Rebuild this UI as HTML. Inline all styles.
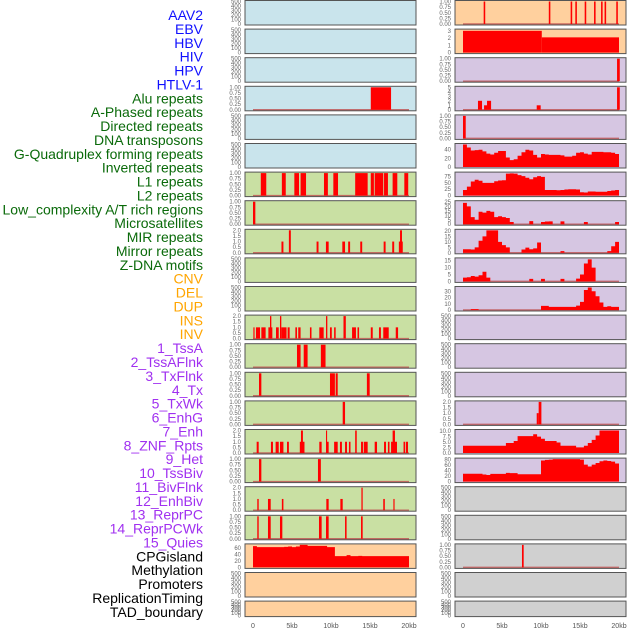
<!DOCTYPE html>
<html><head><meta charset="utf-8">
<style>
html,body{margin:0;padding:0;background:#fff;}
#wrap{position:relative;width:630px;height:630px;overflow:hidden;}
svg text{font-family:"Liberation Sans",sans-serif;}
</style></head>
<body>
<div id="wrap">
<svg id="chart" width="630" height="630" viewBox="0 0 630 630" xmlns="http://www.w3.org/2000/svg"></svg>
</div>
<script>
// ---- labels ----
const labelNames = ["AAV2","EBV","HBV","HIV","HPV","HTLV-1","Alu repeats","A-Phased repeats","Directed repeats","DNA transposons","G-Quadruplex forming repeats","Inverted repeats","L1 repeats","L2 repeats","Low_complexity A/T rich regions","Microsatellites","MIR repeats","Mirror repeats","Z-DNA motifs","CNV","DEL","DUP","INS","INV","1_TssA","2_TssAFlnk","3_TxFlnk","4_Tx","5_TxWk","6_EnhG","7_Enh","8_ZNF_Rpts","9_Het","10_TssBiv","11_BivFlnk","12_EnhBiv","13_ReprPC","14_ReprPCWk","15_Quies","CPGisland","Methylation","Promoters","ReplicationTiming","TAD_boundary"];
const labelGroups = ["virus","virus","virus","virus","virus","virus","rep","rep","rep","rep","rep","rep","rep","rep","rep","rep","rep","rep","rep","sv","sv","sv","sv","sv","cs","cs","cs","cs","cs","cs","cs","cs","cs","cs","cs","cs","cs","cs","cs","oth","oth","oth","oth","oth"];
const xTickValues = [0,5,10,15,20];
const xTickLabels = ["0","5kb","10kb","15kb","20kb"];
const emptyTicks = [0,100,200,300,400,500];

// ---- bar data [startKb, endKb, value] ----
const hivBars = [[15.1,17.7,1]];
const aluBars = [[1.0,1.7,1],[3.7,4.2,1],[5.3,5.9,1],[6.1,6.8,1],[9.1,9.6,1],[10.3,10.9,1],[13.1,14.7,1],[15.1,15.5,1],[15.6,16.7,1],[16.8,17.3,1],[17.9,18.5,1],[19.4,19.9,1]];
const aphasedBars = [[0,0.3,1]];
const directedBars = [[3.65,3.9,1],[4.6,4.85,2],[8.15,8.4,1],[9.35,9.7,1],[11.45,11.8,1],[12.2,12.45,1],[13.75,14.0,1],[16.75,17.0,1],[17.85,18.1,1],[18.7,19.2,1],[18.85,19.1,2]];
const invertedBars = [[0.05,0.2,1],[0.38,0.9,1],[1.07,1.62,1],[1.97,2.48,1],[2.18,2.35,2],[2.95,3.3,1],[3.46,3.63,2],[3.63,4.3,1],[4.44,4.7,1],[5.43,5.64,1],[5.8,6.1,1],[7.3,7.5,1],[8.5,9.06,1],[9.36,9.53,2],[9.87,10.1,1],[10.4,10.6,1],[11.6,11.9,2],[12.7,13.2,1],[13.4,13.6,1],[15.1,15.35,1],[16.15,16.4,1],[16.7,17.4,1],[18.3,18.6,1]];
const l1Bars = [[5.64,6.1,1],[6.5,7.0,1],[8.7,9.3,1]];
const l2Bars = [[0.77,1.07,1],[9.87,10.5,1],[10.6,10.86,1],[14.6,14.96,1]];
const lowCompBars = [[11.5,11.8,1]];
const microBars = [[0.47,0.73,1],[2.3,2.56,1],[2.9,3.3,1],[3.46,3.9,1],[4.36,4.6,1],[6.0,6.6,1],[6.15,6.4,2],[8.5,8.8,1],[9.36,9.7,1],[9.36,9.5,2],[10.4,10.86,1],[11.15,11.4,1],[11.8,12.05,1],[12.3,12.5,1],[13.1,13.3,2],[13.85,14.1,1],[14.2,14.7,1],[15.6,15.9,1],[16.8,17.05,1],[17.3,17.5,1],[17.7,18.46,1],[17.9,18.2,2],[19.3,19.5,1],[19.6,19.87,1]];
const mirBars = [[0.77,1.07,1],[8.33,8.7,1]];
const mirrorBars = [[0.55,0.73,1],[1.92,2.27,1],[3.7,3.9,1],[9.4,9.7,1],[11.2,11.5,1],[13.9,14.06,2],[16.7,16.9,1],[18.0,18.15,1]];
const zdnaBars = [[0.55,0.73,1],[1.92,2.27,1],[3.46,3.76,1],[8.46,8.8,1],[9.36,9.7,1],[11.8,12.0,1],[13.85,14.06,1]];
const insBars = [[2.65,2.85,1],[11.0,11.2,1],[13.8,14.0,1],[14.4,14.6,1],[15.6,15.8,1],[16.8,17.0,1],[17.7,17.9,1],[18.15,18.35,1],[19.65,19.85,1]];
const invBars = [[0,10.1,3],[10.1,20,2.1]];
const tssaBars = [[19.75,20.1,1]];
const tssaflnkBars = [[1.92,2.44,2],[2.7,3.08,1],[3.08,3.6,2],[9.45,9.96,1],[19.75,20.1,5]];
const txflnkBars = [[0,0.35,1]];
const reprpcBars = [[9.45,9.7,1],[9.7,10.05,2]];
const promoterBars = [[7.56,7.78,1]];

// ---- profile data (40 bins of 0.5 kb) ----
const cnvProfile = [66,63,63,63,63,63,63,63,64,65,63,65,72,72,67,67,67,67,67,63,63,35,35,35,38,35,35,36,35,35,35,35,35,35,35,35,35,35,35,35];
const txProfile = [52,45,38,39,40,36,31,29,33,37,37,22,16,18,26,34,40,38,28,22,30,29,28,28,28,27,24,24,26,33,34,31,29,35,35,35,34,34,33,30];
const txwkProfile = [22,35,55,62,58,50,50,50,56,59,60,86,87,86,80,76,70,64,72,76,73,22,22,22,21,22,24,25,25,24,13,12,16,16,15,15,15,18,20,22];
const enhgProfile = [24,20,8,5,14,13,15,14,8,9,8,7,2.5,0,0,0,0,3.5,0,0,2.5,3,3.2,0,0,3.2,0,0,0,0,0,2.5,0,0,0,0,0,0,0,2.5];
const enhProfile = [3.2,3.2,3,5,11,15,20.5,20.5,20.5,10,7,5,0,0,0,3,4.7,3.2,4,9.4,0,0,0,0,0,1.5,0,0,0,0,0,0,0,0,0,0,0,1.5,6,10];
const znfProfile = [2.7,3,3.9,3.5,4.5,7,2.7,0,0,0,0,0,0,0,0,0,0,1.8,0,0,1.8,0,0,0,0,1.8,0,0,0,2,5,13,16,10,0,0,0,0,0,0];
const hetProfile = [0,0,1.5,1.5,0,0,0,0,0,0,0,0,0,0,0,0,0,0,0,0,6.7,6.7,5,5,5,5,5,5,5,7,13,32,36,30,22,12,5,6,5,5];
const reprpcwkProfile = [3.3,3.3,3.3,3.3,3.3,3.3,3.3,3.3,3.3,3.3,3.3,4.6,4.6,5.5,7.7,7.7,7.7,7.7,8.6,7.5,6.5,5.5,5.5,5.5,4.8,3.3,3.3,3.3,3.3,2.6,2.6,3.3,4.6,6,8,10.3,10.3,10.3,10.3,10.3];
const quiesProfile = [28.6,28.6,28.6,28.6,28.6,26,24,28,28,28,28,32,31,31,27,27,27,27,27,27,77,79,80,82,82,82,82,82,82,82,80,62,55,62,68,74,77,75,73,66];

const BLUE="#c9e4ec", GREEN="#c9e0a3", ORANGE="#ffd09e", PURPLE="#d6c6e2", GRAY="#d0d0d0";
const E=null;
const leftPanels = [
 {n:"aav2",bg:BLUE},{n:"ebv",bg:BLUE},{n:"hbv",bg:BLUE},
 {n:"hiv",bg:BLUE,bars:hivBars,ymax:1,ticks:[0,0.25,0.5,0.75,1],fmt:2},
 {n:"hpv",bg:BLUE},{n:"htlv1",bg:BLUE},
 {n:"alu",bg:GREEN,bars:aluBars,ymax:1,ticks:[0,0.25,0.5,0.75,1],fmt:2},
 {n:"a-phased",bg:GREEN,bars:aphasedBars,ymax:1,ticks:[0,0.25,0.5,0.75,1],fmt:2},
 {n:"directed",bg:GREEN,bars:directedBars,ymax:2,ticks:[0,0.5,1,1.5,2],fmt:1},
 {n:"dna-transposons",bg:GREEN},{n:"g-quadruplex",bg:GREEN},
 {n:"inverted",bg:GREEN,bars:invertedBars,ymax:2,ticks:[0,0.5,1,1.5,2],fmt:1},
 {n:"l1",bg:GREEN,bars:l1Bars,ymax:1,ticks:[0,0.25,0.5,0.75,1],fmt:2},
 {n:"l2",bg:GREEN,bars:l2Bars,ymax:1,ticks:[0,0.25,0.5,0.75,1],fmt:2},
 {n:"low-complexity",bg:GREEN,bars:lowCompBars,ymax:1,ticks:[0,0.25,0.5,0.75,1],fmt:2},
 {n:"microsatellites",bg:GREEN,bars:microBars,ymax:2,ticks:[0,0.5,1,1.5,2],fmt:1},
 {n:"mir",bg:GREEN,bars:mirBars,ymax:1,ticks:[0,0.25,0.5,0.75,1],fmt:2},
 {n:"mirror",bg:GREEN,bars:mirrorBars,ymax:2,ticks:[0,0.5,1,1.5,2],fmt:1},
 {n:"z-dna",bg:GREEN,bars:zdnaBars,ymax:1,ticks:[0,0.25,0.5,0.75,1],fmt:2},
 {n:"cnv",bg:ORANGE,prof:cnvProfile,ymax:70,ticks:[0,20,40,60],fmt:0,nobase:1},
 {n:"del",bg:ORANGE},{n:"dup",bg:ORANGE}
];
const rightPanels = [
 {n:"ins",bg:ORANGE,bars:insBars,ymax:1,ticks:[0,0.25,0.5,0.75,1],fmt:2},
 {n:"inv",bg:ORANGE,bars:invBars,ymax:3.1,ticks:[0,1,2,3],fmt:0,nobase:1},
 {n:"tssa",bg:PURPLE,bars:tssaBars,ymax:1,ticks:[0,0.25,0.5,0.75,1],fmt:2},
 {n:"tssaflnk",bg:PURPLE,bars:tssaflnkBars,ymax:5,ticks:[0,1,2,3,4,5],fmt:0},
 {n:"txflnk",bg:PURPLE,bars:txflnkBars,ymax:1,ticks:[0,0.25,0.5,0.75,1],fmt:2},
 {n:"tx",bg:PURPLE,prof:txProfile,ymax:52,ticks:[0,20,40],fmt:0,nobase:1},
 {n:"txwk",bg:PURPLE,prof:txwkProfile,ymax:88,ticks:[0,25,50,75],fmt:0,nobase:1},
 {n:"enhg",bg:PURPLE,prof:enhgProfile,ymax:25.3,ticks:[0,5,10,15,20,25],fmt:0},
 {n:"enh",bg:PURPLE,prof:enhProfile,ymax:20.6,ticks:[0,5,10,15,20],fmt:0},
 {n:"znf-rpts",bg:PURPLE,prof:znfProfile,ymax:16.3,ticks:[0,5,10,15],fmt:0},
 {n:"het",bg:PURPLE,prof:hetProfile,ymax:36,ticks:[0,10,20,30],fmt:0},
 {n:"tssbiv",bg:PURPLE},{n:"bivflnk",bg:PURPLE},{n:"enhbiv",bg:PURPLE},
 {n:"reprpc",bg:PURPLE,bars:reprpcBars,ymax:2,ticks:[0,0.5,1,1.5,2],fmt:1},
 {n:"reprpcwk",bg:PURPLE,prof:reprpcwkProfile,ymax:10.3,ticks:[0,2.5,5,7.5,10],fmt:1,nobase:1},
 {n:"quies",bg:PURPLE,prof:quiesProfile,ymax:82,ticks:[0,20,40,60,80],fmt:0,nobase:1},
 {n:"cpgisland",bg:GRAY},{n:"methylation",bg:GRAY},
 {n:"promoters",bg:GRAY,bars:promoterBars,ymax:1,ticks:[0,0.25,0.5,0.75,1],fmt:2},
 {n:"replication-timing",bg:GRAY},{n:"tad-boundary",bg:GRAY}
];

const NS="http://www.w3.org/2000/svg";
const svg=document.getElementById('chart');
function mk(tag,attrs,parent){const e=document.createElementNS(NS,tag);for(const k in attrs)e.setAttribute(k,attrs[k]);(parent||svg).appendChild(e);return e;}

// labels
const groupColor={virus:"#1010ff",rep:"#0a6a0a",sv:"#ffa500",cs:"#a030f0",oth:"#000"};
labelNames.forEach((t,i)=>{
  const el=mk('text',{x:203,y:20+i*13.88,'text-anchor':'end','font-size':'14',fill:groupColor[labelGroups[i]]});
  el.textContent=t;
  
  
});

function drawColumn(panels,x0,colName){
  const W=171, kb0=x0+8, pxPerKb=7.8;
  const xs=kb=>kb0+kb*pxPerKb;
  panels.forEach((p,i)=>{
    const top=0.5+28.6*i, h=(i===21)?15.5:24.5, bot=top+h;
    const g=mk('g',{});
    
    
    mk('rect',{x:x0,y:top,width:W,height:h,fill:p.bg,stroke:'none'},g);
    const ymax=p.ymax||500, ticks=p.ticks||emptyTicks, fmt=(p.fmt===undefined)?0:p.fmt;
    const yTop=top+1, yBot=bot-1;
    const ys=v=>yBot-(Math.min(v,ymax)/ymax)*(yBot-yTop);
    // ticks
    ticks.forEach(t=>{
      const tl=mk('text',{x:x0-4,y:ys(t)+2,'text-anchor':'end','font-size':'6',fill:'#666'},g);
      tl.textContent=t.toFixed(fmt);
      
      
    });
    if(p.bars||p.prof){
      if(!p.nobase){
        const bl=mk('line',{x1:xs(0),x2:xs(20),y1:ys(0),y2:ys(0),stroke:'#c05050','stroke-width':1.5,opacity:0.8},g);
        
        
      }
      if(p.bars){
        p.bars.forEach(b=>{
          const r=mk('rect',{x:xs(b[0]),y:ys(b[2]),width:Math.max(0.8,xs(b[1])-xs(b[0])),height:ys(0)-ys(b[2]),fill:'#ff0000'},g);
          
          
        });
      }
      if(p.prof){
        let d='M'+xs(0)+','+ys(0);
        p.prof.forEach((v,k)=>{d+=' L'+xs(k*0.5)+','+ys(v)+' L'+xs((k+1)*0.5)+','+ys(v);});
        d+=' L'+xs(20)+','+ys(0)+' Z';
        const a=mk('path',{d:d,fill:'#ff0000'},g);
        
        
      }
    }
    mk('rect',{x:x0,y:top,width:W,height:h,fill:'none',stroke:'#555','stroke-width':1},g);
  });
  xTickValues.forEach((v,k)=>{
    const t=mk('text',{x:xs(v),y:628,'text-anchor':'middle','font-size':'7',fill:'#555'});
    t.textContent=xTickLabels[k];
    
    
  });
}
drawColumn(leftPanels,245,'left');
drawColumn(rightPanels,455,'right');
</script>
</body></html>
